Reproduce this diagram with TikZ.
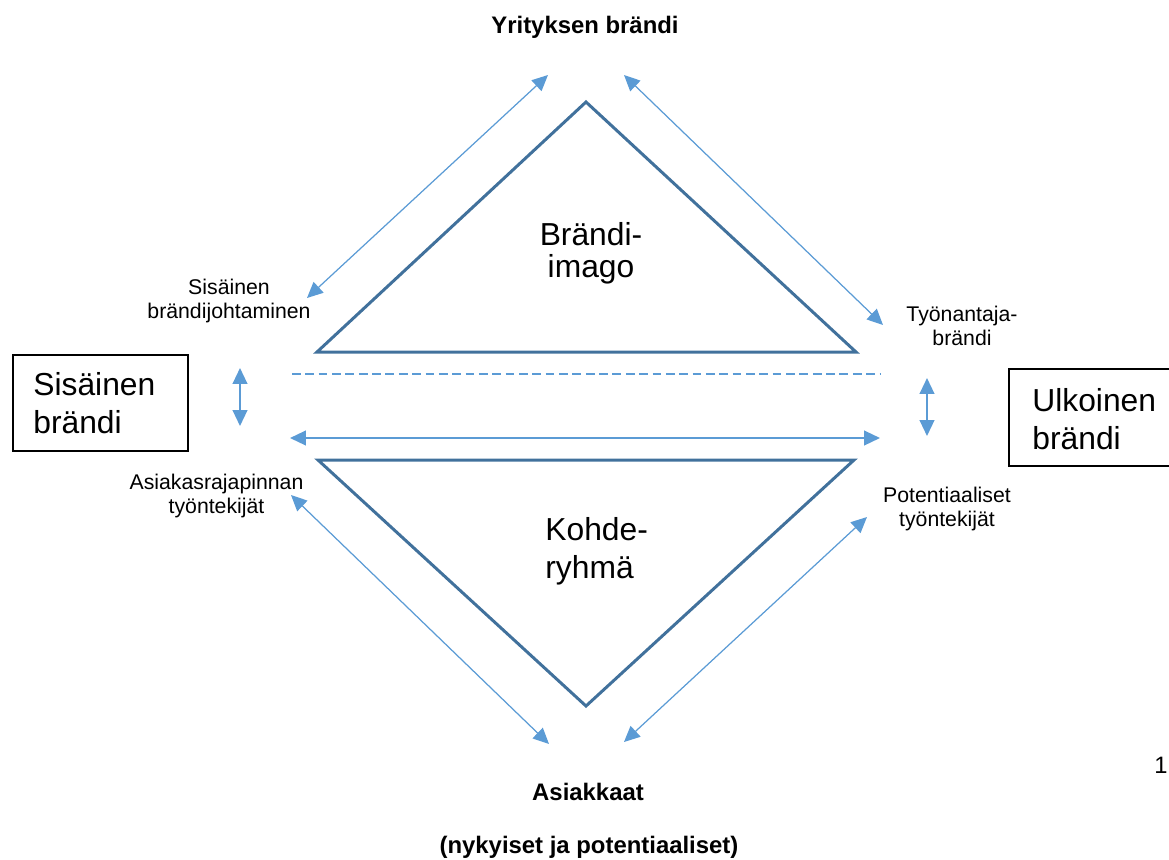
\documentclass[tikz,border=0pt]{standalone}
\usepackage{fontspec}
\setmainfont{Liberation Sans}
\usetikzlibrary{arrows.meta}
\definecolor{triblue}{HTML}{41719C}
\definecolor{arrblue}{HTML}{5B9BD5}
\begin{document}
\begin{tikzpicture}[x=0.02cm,y=-0.02cm,
 trishape/.style={draw=triblue, line width=1.7pt, line join=miter},
 link/.style={draw=arrblue, line width=0.7pt, {Triangle[length=9pt,width=8.3pt]}-{Triangle[length=9pt,width=8.3pt]}},
 thicklink/.style={link, line width=1.1pt},
 dashline/.style={draw=arrblue, line width=1.1pt, dash pattern=on 5pt off 2.6pt},
 big/.style={font=\fontsize{18.1pt}{21.3pt}\selectfont, inner sep=0pt},
 small/.style={font=\fontsize{12.1pt}{13.2pt}\selectfont, inner sep=0pt, align=center, anchor=base},
 head/.style={font=\fontsize{13.6pt}{16pt}\selectfont\bfseries, inner sep=0pt, anchor=base},
 brandbox/.style={draw=black, line width=1.1pt, inner sep=0pt}
]
\useasboundingbox (0,0) rectangle (1169,859);

% triangles
\coordinate (ta) at (586,102);
\coordinate (tl) at (317,352);
\coordinate (tr) at (856,352);
\draw[trishape] (ta) -- (tl) -- (tr) -- cycle;
\coordinate (bl) at (318,460);
\coordinate (br) at (854,460);
\coordinate (bb) at (586,706);
\draw[trishape] (bl) -- (br) -- (bb) -- cycle;

% headings
\node[head] (yritys) at (585,33) {Yrityksen brändi};
\node[head] (asiakkaat) at (588,800) {Asiakkaat};
\node[head] (nykyiset) at (589,853) {(nykyiset ja potentiaaliset)};

% triangle texts (anchor base = last line)
\node[big, font=\fontsize{18.1pt}{18.1pt}\selectfont, align=center, anchor=base] (imago) at (591,277) {Brändi-\\imago};
\node[big, font=\fontsize{18.1pt}{21.5pt}\selectfont, align=left, anchor=base west] (kohde) at (545,578) {Kohde-\\ryhmä};

% small labels
\node[small] (sisjoht) at (229,318) {Sisäinen\\brändijohtaminen};
\node[small] (tyonant) at (962,345) {Työnantaja-\\brändi};
\node[small] (asiakasraj) at (216.5,513) {Asiakasrajapinnan\\työntekijät};
\node[small] (potent) at (947,526) {Potentiaaliset\\työntekijät};
\node[small, font=\fontsize{13.5pt}{14pt}\selectfont, anchor=base east] (num) at (1168,773) {1};

% boxes
\node[brandbox, minimum width=3.5cm, minimum height=1.914cm] (lbox) at (100.2,402.85) {};
\node[big, align=left, anchor=base west] (ltext) at (33,433) {Sisäinen\\brändi};
\node[brandbox, minimum width=3.32cm, minimum height=1.94cm] (rbox) at (1092,417.5) {};
\node[big, align=left, anchor=base west] (rtext) at (1032,449) {Ulkoinen\\brändi};

% arrows
\coordinate (a1s) at (548,75);
\coordinate (a1e) at (307,298);
\coordinate (a2s) at (624,75);
\coordinate (a2e) at (883,325);
\coordinate (a3s) at (291,495);
\coordinate (a3e) at (549,744);
\coordinate (a4s) at (867,517);
\coordinate (a4e) at (624,742);
\draw[link] (a1s) -- (a1e);
\draw[link] (a2s) -- (a2e);
\draw[link] (a3s) -- (a3e);
\draw[link] (a4s) -- (a4e);

\coordinate (hs) at (290,438);
\coordinate (he) at (880,438);
\draw[thicklink] (hs) -- (he);
\coordinate (vls) at (240,368);
\coordinate (vle) at (240,426);
\draw[thicklink] (vls) -- (vle);
\coordinate (vrs) at (927,378);
\coordinate (vre) at (927,436);
\draw[thicklink] (vrs) -- (vre);

\coordinate (ds) at (292,374);
\coordinate (de) at (880,374);
\draw[dashline] (ds) -- (de);
\end{tikzpicture}
\end{document}
